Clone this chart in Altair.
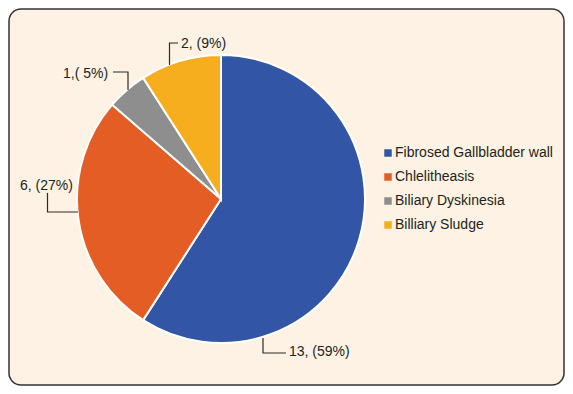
import altair as alt
import pandas as pd

# ---- data ----
categories = ["Fibrosed Gallbladder wall", "Chlelitheasis", "Biliary Dyskinesia", "Billiary Sludge"]
counts = [13, 6, 1, 2]
label_texts = ["13, (59%)", "6, (27%)", "1,( 5%)", "2, (9%)"]

# ---- styles / layout ----
colors = ["#3256A5", "#E35D24", "#8E8E8E", "#F6AE1E"]
FONT = "Liberation Sans"
FS = 14
PAD = 1
OFF = 8 + PAD
W, H = 555, 376
CX, CY, R = 221 - OFF, 199 - OFF, 144

# label anchors (left, baseline) and leader paths (page pixel layout, shifted below)
label_pos = [(289, 356), (20, 190), (63, 78), (181, 48)]
leader_paths = [
    [(263, 338), (263, 353), (286, 353)],
    [(47.5, 193), (47.5, 212), (78, 212)],
    [(113, 72), (128, 72), (128, 90)],
    [(178, 43), (169.5, 43), (169.5, 65)],
]

pie_df = pd.DataFrame({"category": categories, "count": counts, "idx": range(len(counts))})

lab_df = pd.DataFrame({
    "text": label_texts,
    "x": [p[0] - OFF for p in label_pos],
    "y": [p[1] - OFF for p in label_pos],
})

rows = []
for i, path in enumerate(leader_paths):
    for j, (px, py) in enumerate(path):
        rows.append({"path": i, "seq": j, "x": px - OFF, "y": py - OFF})
line_df = pd.DataFrame(rows)

xs = alt.Scale(domain=[0, W], nice=False, zero=False)
ys = alt.Scale(domain=[0, H], nice=False, zero=False, reverse=True)

pie = alt.Chart(pie_df).mark_arc(
    x=CX, y=CY, outerRadius=R, stroke="white", strokeWidth=2
).encode(
    theta=alt.Theta("count:Q", stack=True),
    color=alt.Color(
        "category:N",
        scale=alt.Scale(domain=categories, range=colors),
        sort=categories,
        legend=alt.Legend(
            title=None, orient="none", legendX=372, legendY=137,
            symbolType="square", symbolSize=56, symbolStrokeWidth=0,
            labelFontSize=FS, labelFont=FONT, labelColor="#231F20",
            rowPadding=10, padding=0, labelOffset=0, labelLimit=300,
        ),
    ),
    order=alt.Order("idx:Q"),
)

lines = alt.Chart(line_df).mark_line(color="#2b2b2b", strokeWidth=1.2).encode(
    x=alt.X("x:Q", scale=xs, axis=None),
    y=alt.Y("y:Q", scale=ys, axis=None),
    detail="path:N",
    order="seq:Q",
)

texts = alt.Chart(lab_df).mark_text(
    align="left", baseline="alphabetic", fontSize=FS, font=FONT, color="#231F20"
).encode(
    x=alt.X("x:Q", scale=xs, axis=None),
    y=alt.Y("y:Q", scale=ys, axis=None),
    text="text:N",
)

chart = alt.layer(pie, lines, texts).properties(
    width=W, height=H, padding=PAD, autosize="none"
).configure_view(
    fill="#FDF2E3", stroke="#333333", strokeWidth=1.5, cornerRadius=12
)

chart.save("out.html", embed_options={"renderer": "svg", "actions": False})
